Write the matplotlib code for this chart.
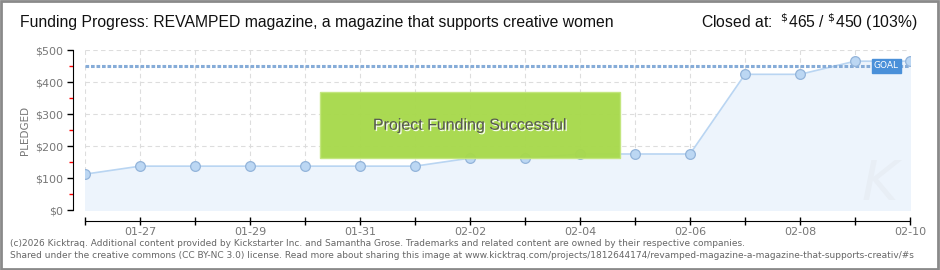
import matplotlib
matplotlib.use("Agg")
import matplotlib.pyplot as plt
import matplotlib.dates as mdates
import numpy as np
import datetime as dt
from matplotlib.patches import Rectangle
import matplotlib.patheffects as pe

dates = ["2026-01-26", "2026-01-27", "2026-01-28", "2026-01-29", "2026-01-30", "2026-01-31",
         "2026-02-01", "2026-02-02", "2026-02-03", "2026-02-04", "2026-02-05", "2026-02-06",
         "2026-02-07", "2026-02-08", "2026-02-09", "2026-02-10"]
pledged = [112, 137, 137, 137, 137, 137, 137, 162, 162, 175, 175, 175, 424, 424, 465, 465]
goal = 450
yticks = [0, 100, 200, 300, 400, 500]
title = "Funding Progress: REVAMPED magazine, a magazine that supports creative women"
closed = r"Closed at:  $^{\$}$465 / $^{\$}$450 (103%)"
footer1 = "(c)2026 Kicktraq. Additional content provided by Kickstarter Inc. and Samantha Grose. Trademarks and related content are owned by their respective companies."
footer2 = "Shared under the creative commons (CC BY-NC 3.0) license. Read more about sharing this image at www.kicktraq.com/projects/1812644174/revamped-magazine-a-magazine-that-supports-creativ/#s"

x = [dt.datetime.strptime(d, "%Y-%m-%d") for d in dates]
xn = mdates.date2num(x)

W, H = 940, 270
fig = plt.figure(figsize=(W/100, H/100), dpi=100)
fig.patch.set_facecolor("white")
fig.add_artist(Rectangle((0.001, 0.002), 0.997, 0.995, transform=fig.transFigure,
                         fill=False, edgecolor="#8a8a8a", linewidth=2))

ax = fig.add_axes([85/W, (H-210)/H, (910-85)/W, 160/H])
ax.set_xlim(xn[0], xn[-1])
ax.set_ylim(0, 500)

# grid
for v in xn:
    ax.axvline(v, color="#dddddd", lw=0.8, ls=(0, (4, 3)), zorder=0)
for v in yticks:
    ax.axhline(v, color="#dddddd", lw=0.8, ls=(0, (4, 3)), zorder=0)

ax.fill_between(xn, pledged, 0, color="#edf4fc", zorder=1)
ax.plot(xn, pledged, color="#b9d5f2", lw=1.2, zorder=2)
ax.plot(xn, pledged, "o", ms=7, mfc="#bcd7f3", mec="#93b4da", mew=0.9, zorder=4)

ax.plot([xn[0], xn[-1]], [goal, goal], color="#86acd8", lw=2.2, ls=(0, (1.2, 0.6)), zorder=3)

# watermark K
ax.text(xn[-1] - 0.55, 80, "K", fontsize=40, color="#e8eef5", ha="center", va="center",
        style="italic", zorder=1)

# success box
ax.add_patch(Rectangle((xn[0] + 4.27, 162), 5.46, 207, facecolor="#a7d94b",
                       edgecolor="#c3e67e", lw=1, alpha=0.96, zorder=5))
ax.text(xn[0] + 7.0, 265, "Project Funding Successful", fontsize=11.5, color="#555555",
        ha="center", va="center", zorder=6,
        path_effects=[pe.withSimplePatchShadow(offset=(1, -1), shadow_rgbFace="white", alpha=0.9)],
        family="Liberation Sans")

# goal label
ax.text(xn[-1] - 0.2, goal, "GOAL", fontsize=6.5, color="white", ha="right", va="center",
        zorder=6, bbox=dict(boxstyle="square,pad=0.25", fc="#4a90d9", ec="#4a90d9"))

for s in ["top", "right"]:
    ax.spines[s].set_visible(False)
ax.spines["left"].set_position(("outward", 9))
ax.spines["bottom"].set_position(("outward", 8))
ax.spines["left"].set_bounds(0, 500)

ax.set_yticks(yticks)
ax.set_yticklabels(["$%d" % v for v in yticks], color="#777777", fontsize=8)
ax.set_yticks([50, 150, 250, 350, 450], minor=True)
ax.tick_params(axis="y", which="major", length=4, width=1, color="black", pad=3)
ax.tick_params(axis="y", which="minor", length=3, width=1, color="red")

ax.set_xticks(xn)
ax.set_xticklabels([d[5:] if i % 2 == 1 else "" for i, d in enumerate(dates)],
                   color="#777777", fontsize=8)
ax.tick_params(axis="x", which="major", length=6, width=1, direction="inout", pad=1)

ax.set_ylabel("PLEDGED", color="#777777", fontsize=7.5, labelpad=3)

fig.text(20/W, 1 - 22/H, title, fontsize=11.3, color="#111111", va="center", ha="left",
         family="Liberation Sans")
fig.text(918/W, 1 - 22/H, closed, fontsize=11.3, color="#111111",
         va="center", ha="right", family="Liberation Sans")

fig.text(10/W, 1 - 243/H, footer1, fontsize=6.5, color="#666666", va="center", ha="left")
fig.text(10/W, 1 - 255/H, footer2, fontsize=6.5, color="#666666", va="center", ha="left")

fig.savefig("out.png", dpi=100)
